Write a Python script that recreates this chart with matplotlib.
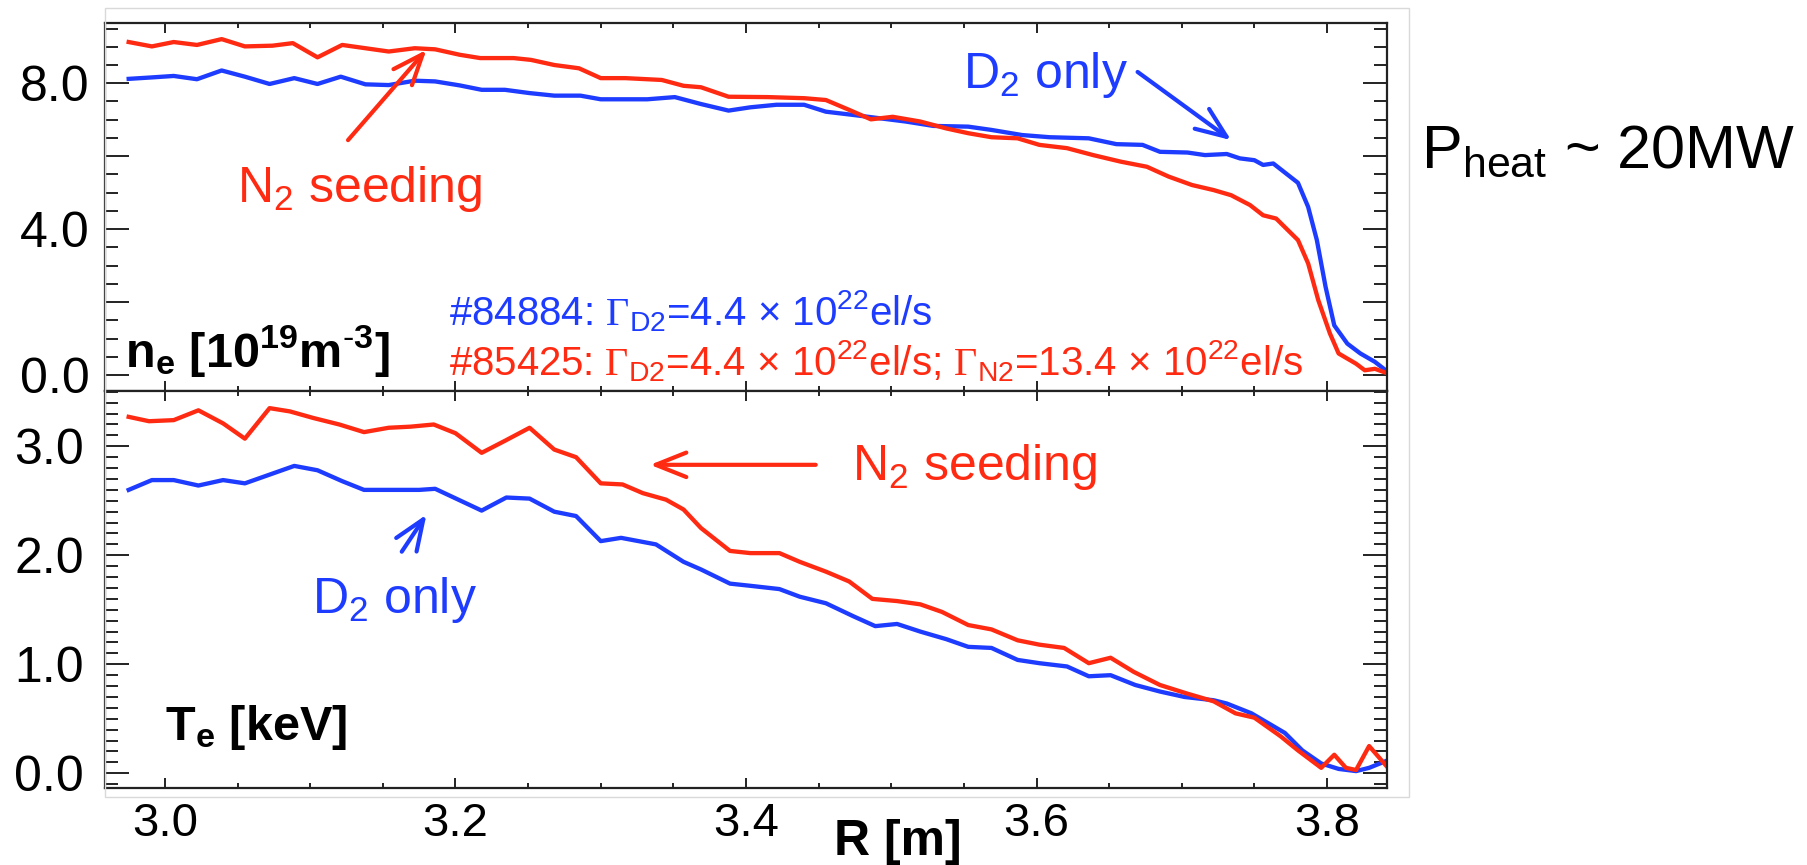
import matplotlib
matplotlib.use('Agg')
import matplotlib.pyplot as plt
from matplotlib.patches import Rectangle
from matplotlib.ticker import MultipleLocator

plt.rcParams.update({
    'font.family': 'Liberation Sans',
    'mathtext.fontset': 'custom',
    'mathtext.rm': 'Liberation Sans',
    'mathtext.it': 'Liberation Sans',
    'mathtext.bf': 'Liberation Sans:bold',
    'mathtext.cal': 'Liberation Serif',
})

RED = '#ff2a12'
BLUE = '#1d3cff'

# electron density profiles [1e19 m^-3]
r_ne_d2 = [2.975, 2.991, 3.006, 3.022, 3.039, 3.055, 3.072, 3.089, 3.105, 3.121, 3.138, 3.154,
           3.172, 3.186, 3.203, 3.218, 3.234, 3.251, 3.268, 3.286, 3.300, 3.317, 3.332, 3.351,
           3.369, 3.388, 3.403, 3.421, 3.440, 3.455, 3.474, 3.492, 3.510, 3.529, 3.553, 3.569,
           3.590, 3.609, 3.636, 3.655, 3.673, 3.685, 3.704, 3.716, 3.731, 3.740, 3.750, 3.756,
           3.763, 3.780, 3.787, 3.793, 3.799, 3.805, 3.814, 3.823, 3.833, 3.842]
ne_d2 = [8.12, 8.16, 8.20, 8.11, 8.35, 8.18, 7.98, 8.14, 7.98, 8.18, 7.97, 7.95,
         8.07, 8.05, 7.94, 7.82, 7.82, 7.73, 7.66, 7.66, 7.56, 7.56, 7.56, 7.62,
         7.43, 7.25, 7.34, 7.41, 7.41, 7.22, 7.13, 7.04, 6.95, 6.83, 6.81, 6.72,
         6.58, 6.52, 6.49, 6.33, 6.31, 6.12, 6.10, 6.03, 6.06, 5.94, 5.89, 5.76,
         5.80, 5.27, 4.61, 3.70, 2.42, 1.36, 0.86, 0.59, 0.36, 0.08]

r_ne_n2 = [2.975, 2.991, 3.006, 3.022, 3.039, 3.055, 3.074, 3.088, 3.105, 3.122, 3.138, 3.154,
           3.172, 3.186, 3.203, 3.217, 3.240, 3.252, 3.268, 3.285, 3.300, 3.317, 3.332, 3.342,
           3.357, 3.369, 3.388, 3.415, 3.440, 3.455, 3.471, 3.486, 3.501, 3.520, 3.538, 3.553,
           3.569, 3.587, 3.602, 3.621, 3.639, 3.658, 3.676, 3.691, 3.707, 3.722, 3.734, 3.747,
           3.756, 3.765, 3.780, 3.787, 3.794, 3.802, 3.808, 3.820, 3.826, 3.833, 3.842]
ne_n2 = [9.13, 9.01, 9.13, 9.05, 9.21, 9.01, 9.03, 9.10, 8.71, 9.05, 8.96, 8.87,
         8.96, 8.93, 8.78, 8.69, 8.69, 8.64, 8.50, 8.41, 8.14, 8.14, 8.11, 8.09,
         7.93, 7.89, 7.63, 7.62, 7.59, 7.54, 7.27, 7.01, 7.08, 6.95, 6.76, 6.63,
         6.52, 6.49, 6.31, 6.22, 6.03, 5.85, 5.71, 5.44, 5.21, 5.07, 4.93, 4.66,
         4.38, 4.29, 3.70, 3.06, 2.05, 1.14, 0.59, 0.31, 0.13, 0.17, 0.04]

# electron temperature profiles [keV]
r_te_d2 = [2.975, 2.991, 3.006, 3.023, 3.040, 3.055, 3.072, 3.089, 3.105, 3.122, 3.137, 3.154,
           3.175, 3.186, 3.202, 3.218, 3.235, 3.251, 3.268, 3.283, 3.300, 3.314, 3.338, 3.357,
           3.369, 3.389, 3.403, 3.423, 3.437, 3.455, 3.474, 3.489, 3.504, 3.520, 3.538, 3.553,
           3.569, 3.587, 3.602, 3.621, 3.636, 3.651, 3.668, 3.685, 3.702, 3.722, 3.731, 3.748,
           3.771, 3.783, 3.796, 3.808, 3.820, 3.829, 3.842]
te_d2 = [2.60, 2.69, 2.69, 2.64, 2.69, 2.66, 2.74, 2.82, 2.78, 2.68, 2.60, 2.60,
         2.60, 2.61, 2.51, 2.41, 2.53, 2.52, 2.40, 2.36, 2.13, 2.16, 2.10, 1.94,
         1.87, 1.74, 1.72, 1.69, 1.62, 1.56, 1.44, 1.35, 1.37, 1.30, 1.23, 1.16,
         1.15, 1.04, 1.01, 0.98, 0.89, 0.90, 0.81, 0.75, 0.70, 0.67, 0.64, 0.55,
         0.37, 0.21, 0.09, 0.04, 0.02, 0.05, 0.12]

r_te_n2 = [2.975, 2.989, 3.006, 3.023, 3.040, 3.055, 3.072, 3.086, 3.102, 3.120, 3.137, 3.154,
           3.169, 3.185, 3.200, 3.218, 3.234, 3.251, 3.268, 3.283, 3.300, 3.315, 3.329, 3.345,
           3.357, 3.369, 3.389, 3.403, 3.423, 3.437, 3.455, 3.471, 3.487, 3.504, 3.520, 3.535,
           3.553, 3.569, 3.587, 3.602, 3.619, 3.636, 3.651, 3.667, 3.685, 3.704, 3.722, 3.737,
           3.750, 3.768, 3.780, 3.796, 3.805, 3.813, 3.820, 3.829, 3.842]
te_n2 = [3.27, 3.23, 3.24, 3.33, 3.21, 3.07, 3.35, 3.32, 3.26, 3.20, 3.13, 3.17,
         3.18, 3.20, 3.12, 2.94, 3.05, 3.17, 2.97, 2.90, 2.66, 2.65, 2.57, 2.51,
         2.42, 2.25, 2.04, 2.02, 2.02, 1.94, 1.85, 1.76, 1.60, 1.58, 1.55, 1.48,
         1.36, 1.32, 1.22, 1.18, 1.15, 1.01, 1.06, 0.93, 0.81, 0.73, 0.66, 0.55,
         0.51, 0.34, 0.21, 0.05, 0.17, 0.05, 0.03, 0.25, 0.05]

x_ticks = [3.0, 3.2, 3.4, 3.6, 3.8]
x_ticklabels = ['3.0', '3.2', '3.4', '3.6', '3.8']
ne_ticks = [0, 2, 4, 6, 8]
ne_ticklabels = ['0.0', '', '4.0', '', '8.0']
te_ticks = [0, 1, 2, 3]
te_ticklabels = ['0.0', '1.0', '2.0', '3.0']

W, H = 1807, 865
fig = plt.figure(figsize=(W / 100, H / 100), dpi=100)

# thin grey frame around the plot block
fig.patches.append(Rectangle((105 / W, 1 - 797 / H), (1409 - 105) / W, (797 - 8) / H,
                             transform=fig.transFigure, fill=False, lw=1.0,
                             edgecolor='#d9d9d9', zorder=0))

ax1 = fig.add_axes([105 / W, 1 - 390.7 / H, (1387 - 105) / W, (390.7 - 22.7) / H])
ax2 = fig.add_axes([105 / W, 1 - 788 / H, (1387 - 105) / W, (788 - 390.7) / H])

for ax in (ax1, ax2):
    ax.set_xlim(2.9587, 3.8413)
    ax.set_xticks(x_ticks)
    ax.xaxis.set_minor_locator(MultipleLocator(0.05))
    for s in ax.spines.values():
        s.set_linewidth(1.6)
        s.set_color('#222222')
    ax.tick_params(axis='both', which='both', direction='in', top=True, right=True,
                   color='#222222', width=1.4)
    ax.tick_params(axis='x', which='major', length=7.0)
    ax.tick_params(axis='x', which='minor', length=3.8)
    ax.tick_params(axis='y', which='major', length=17.5)
    ax.tick_params(axis='y', which='minor', length=9.5)

ax1.plot(r_ne_d2, ne_d2, color=BLUE, lw=3.1)
ax1.plot(r_ne_n2, ne_n2, color=RED, lw=3.1)
ax1.set_ylim(-0.43, 9.66)
ax1.set_yticks(ne_ticks, ne_ticklabels)
ax1.yaxis.set_minor_locator(MultipleLocator(0.5))
ax1.tick_params(axis='y', labelsize=36, pad=11)
ax1.tick_params(axis='x', labelbottom=False)

ax2.plot(r_te_d2, te_d2, color=BLUE, lw=3.1)
ax2.plot(r_te_n2, te_n2, color=RED, lw=3.1)
ax2.set_ylim(-0.135, 3.51)
ax2.set_yticks(te_ticks, te_ticklabels)
ax2.yaxis.set_minor_locator(MultipleLocator(0.1))
ax2.set_xticklabels(x_ticklabels)
ax2.tick_params(axis='y', labelsize=36, pad=15)
ax2.tick_params(axis='x', labelsize=34, pad=10)

fig.text(898 / W, 1 - 855 / H, 'R [m]', ha='center', va='baseline',
         fontsize=36, fontweight='bold')

# panel labels
ax1.text(2.9725, 0.22, r'n$_\mathbf{e}$ [10$^\mathbf{19}$m$^{\mathbf{\text{-}3}}$]',
         fontsize=35, fontweight='bold', va='baseline')
ax2.text(3.0, 0.306, r'T$_\mathbf{e}$ [keV]', fontsize=35, fontweight='bold', va='baseline')

# shot info
ax1.text(3.1955, 1.37, r'#84884: $\mathcal{\Gamma}_{\mathrm{D2}}$=4.4 $\times$ 10$^{22}$el/s',
         fontsize=29, color=BLUE, va='baseline')
ax1.text(3.1955, 0.0, r'#85425: $\mathcal{\Gamma}_{\mathrm{D2}}$=4.4 $\times$ 10$^{22}$el/s; '
         r'$\mathcal{\Gamma}_{\mathrm{N2}}$=13.4 $\times$ 10$^{22}$el/s',
         fontsize=29, color=RED, va='baseline')

arrow = '->,head_length=0.55,head_width=0.22'

# top panel annotations
ax1.text(3.0496, 4.74, 'N$_2$ seeding', fontsize=36, color=RED, va='baseline')
ax1.annotate('', xy=(3.180, 8.915), xytext=(3.126, 6.44),
             arrowprops=dict(arrowstyle=arrow, color=RED, lw=3, mutation_scale=40,
                             shrinkA=0, shrinkB=0))
ax1.text(3.5494, 7.87, 'D$_2$ only', fontsize=36, color=BLUE, va='baseline')
ax1.annotate('', xy=(3.734, 6.44), xytext=(3.6696, 8.31),
             arrowprops=dict(arrowstyle=arrow, color=BLUE, lw=3, mutation_scale=40,
                             shrinkA=0, shrinkB=0))

# bottom panel annotations
ax2.text(3.473, 2.694, 'N$_2$ seeding', fontsize=36, color=RED, va='baseline')
ax2.annotate('', xy=(3.334, 2.83), xytext=(3.448, 2.83),
             arrowprops=dict(arrowstyle=arrow, color=RED, lw=3, mutation_scale=40,
                             shrinkA=0, shrinkB=0))
ax2.text(3.101, 1.473, 'D$_2$ only', fontsize=36, color=BLUE, va='baseline')
ax2.annotate('', xy=(3.180, 2.373), xytext=(3.163, 2.033),
             arrowprops=dict(arrowstyle=arrow, color=BLUE, lw=3, mutation_scale=40,
                             shrinkA=0, shrinkB=0))

fig.text(1421 / W, 1 - 167 / H, r'P$_{\mathrm{heat}}$ ~ 20MW', fontsize=44,
         va='baseline', ha='left')

fig.savefig('out.png', dpi=100, facecolor='white')
